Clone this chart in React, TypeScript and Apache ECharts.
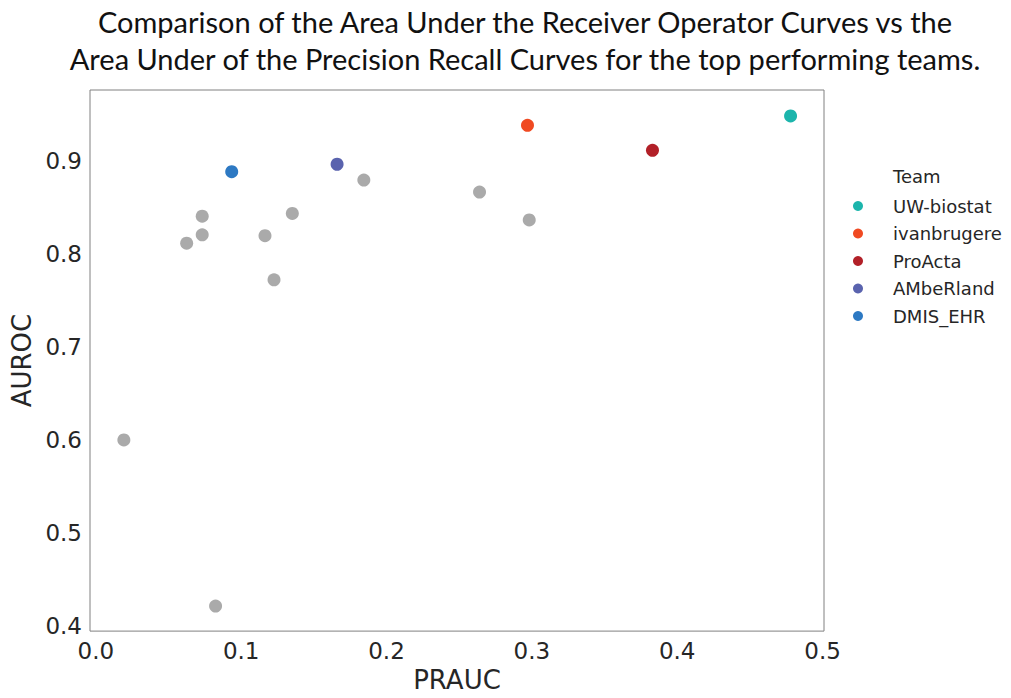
import React, { useEffect, useRef } from "react";
import * as echarts from "echarts";

const teams = ["UW-biostat", "ivanbrugere", "ProActa", "AMbeRland", "DMIS_EHR"];
const teamColors = ["#1cb5ac", "#f04a22", "#b22028", "#5a63ae", "#2d79c3"];
const teamPrauc = [0.478, 0.297, 0.383, 0.166, 0.0935];
const teamAuroc = [0.949, 0.939, 0.912, 0.897, 0.889];

const otherPrauc = [0.0193, 0.0824, 0.0625, 0.0732, 0.0732, 0.1164, 0.1226, 0.1352, 0.1844, 0.264, 0.2982];
const otherAuroc = [0.6, 0.421, 0.812, 0.821, 0.841, 0.82, 0.7725, 0.844, 0.88, 0.867, 0.837];

const titleLines = [
  "Comparison of the Area Under the Receiver Operator Curves vs the",
  "Area Under of the Precision Recall Curves for the top performing teams.",
];

const tickFmt = (v: number) =>
  Math.abs(v * 10 - Math.round(v * 10)) < 1e-6 ? v.toFixed(1) : "";

export default function App() {
  const ref = useRef<HTMLDivElement>(null);
  useEffect(() => {
    const chart = echarts.init(ref.current!, undefined, { renderer: "svg" });
    const font = "'DejaVu Sans', Verdana, sans-serif";
    const series: any[] = [
      {
        name: "Other",
        type: "scatter",
        symbolSize: 13,
        itemStyle: { color: "#aaaaaa", opacity: 1 },
        data: otherPrauc.map((x, i) => [x, otherAuroc[i]]),
        emphasis: { disabled: true },
      },
      ...teams.map((t, i) => ({
        name: t,
        type: "scatter",
        symbolSize: 13,
        itemStyle: { color: teamColors[i], opacity: 1 },
        data: [[teamPrauc[i], teamAuroc[i]]],
        emphasis: { disabled: true },
      })),
    ];
    chart.setOption({
      animation: false,
      backgroundColor: "#ffffff",
      grid: {
        left: 90,
        right: 187,
        top: 90,
        bottom: 60,
        show: true,
        borderColor: "#808080",
        borderWidth: 1,
      },
      xAxis: {
        type: "value",
        min: -0.004,
        max: 0.501,
        splitNumber: 5,
        name: "PRAUC",
        nameLocation: "middle",
        nameGap: 32,
        nameTextStyle: { fontFamily: font, fontSize: 26, color: "#262626" },
        axisLine: { show: false },
        axisTick: { show: false },
        splitLine: { show: false },
        axisLabel: {
          fontFamily: font,
          fontSize: 23,
          color: "#262626",
          margin: 8,
          showMinLabel: false,
          showMaxLabel: false,
          formatter: tickFmt,
        },
      },
      yAxis: {
        type: "value",
        min: 0.394,
        max: 0.977,
        splitNumber: 6,
        name: "AUROC",
        nameLocation: "middle",
        nameGap: 54,
        nameTextStyle: { fontFamily: font, fontSize: 26, color: "#262626" },
        axisLine: { show: false },
        axisTick: { show: false },
        splitLine: { show: false },
        axisLabel: {
          fontFamily: font,
          fontSize: 23,
          color: "#262626",
          margin: 8,
          showMinLabel: false,
          showMaxLabel: false,
          formatter: tickFmt,
        },
      },
      legend: {
        data: teams,
        orient: "vertical",
        left: 853,
        top: 196,
        padding: 0,
        icon: "circle",
        itemWidth: 10,
        itemHeight: 10,
        itemGap: 7.5,
        selectedMode: false,
        textStyle: {
          fontFamily: font,
          fontSize: 18,
          lineHeight: 20,
          color: "#262626",
          padding: [0, 0, 0, 25],
        },
      },
      graphic: [
        {
          type: "text",
          left: 893,
          top: 167,
          style: { text: "Team", fontFamily: font, fontSize: 18, fill: "#262626" },
        },
        ...titleLines.map((t, i) => ({
          type: "text",
          x: 525,
          y: i === 0 ? 21 : 58,
          style: {
            text: t,
            fontFamily: "Lato",
            fontSize: 29,
            fill: "#111111",
            align: "center",
            verticalAlign: "middle",
          },
        })),
      ],
      series,
    });
    return () => chart.dispose();
  }, []);
  return (
    <div
      ref={ref}
      style={{ position: "absolute", left: 0, top: 0, width: 1011, height: 698 }}
    />
  );
}
